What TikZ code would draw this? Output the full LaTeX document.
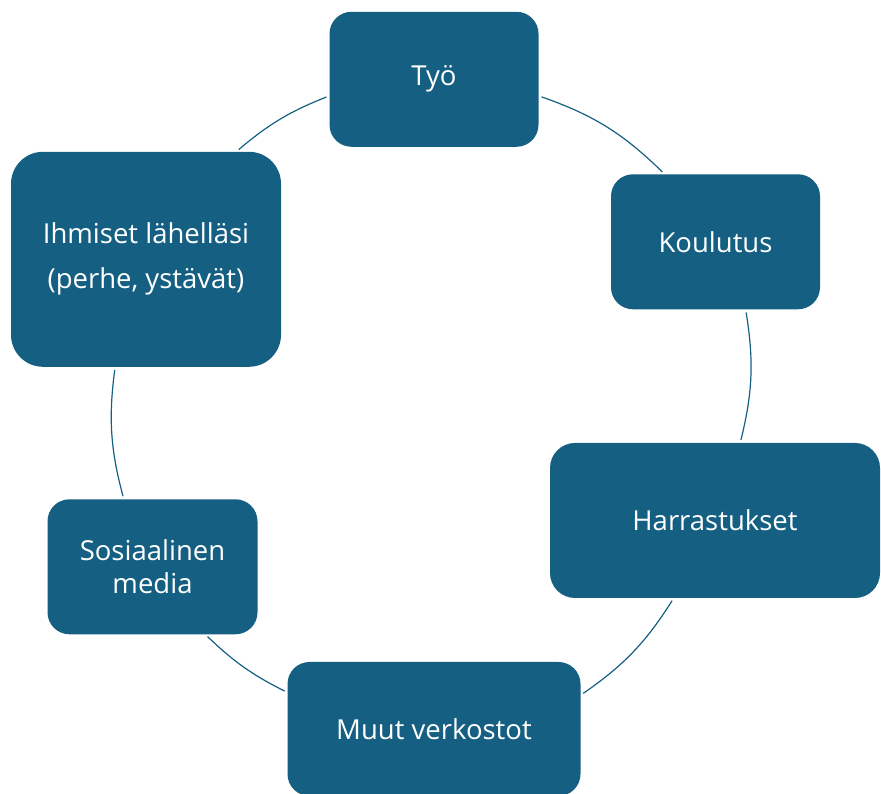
\documentclass[tikz,border=0pt]{standalone}
\usepackage{fontspec}
\setmainfont{Open Sans}
\definecolor{boxblue}{HTML}{156082}

\begin{document}
\begin{tikzpicture}[x=1pt,y=1pt]
\fontsize{27.5}{33}\selectfont
\tikzset{
  box/.style={fill=boxblue,text=white,align=center,inner sep=0pt,
    minimum width=209pt,minimum height=135pt,rounded corners=22pt},
  link/.style={boxblue,line width=1.2pt,shorten <=3pt,shorten >=3pt}
}
\useasboundingbox (0,0) rectangle (881,794);

\coordinate (c0) at (434,714.7);
\coordinate (c1) at (715.5,552.2);
\coordinate (c2) at (715,273.5);
\coordinate (c3) at (434,65);
\coordinate (c4) at (152.5,227.2);
\coordinate (c5) at (146,534.7);

\node[box] (tyo) at (c0) {Työ};
\node[box] (kou) at (c1) {Koulutus};
\node[box,minimum width=330pt,minimum height=155pt,rounded corners=25pt] (har) at (c2) {Harrastukset};
\node[box,minimum width=293pt,minimum height=134pt] (muut) at (c3) {Muut verkostot};
\node[box,minimum width=210pt] (sos) at (c4) {Sosiaalinen\\media};
\node[box,minimum width=270pt,minimum height=215pt,rounded corners=32pt] (ihm) at (c5)
  {Ihmiset lähelläsi\\[12pt](perhe, ystävät)};

\draw[link] (tyo.-9.4) to[bend left=12.6] (kou.127.6);
\draw[link] (kou.-66.7) to[bend left=11.5] (har.72.5);
\draw[link] (har.-118.1) to[bend left=11.5] (muut.13.7);
\draw[link] (muut.166.2) to[bend left=8.6] (sos.-52.4);
\draw[link] (sos.113.1) to[bend left=11.2] (ihm.-106.6);
\draw[link] (ihm.50.6) to[bend left=9.4] (tyo.189.5);

\end{tikzpicture}
\end{document}
